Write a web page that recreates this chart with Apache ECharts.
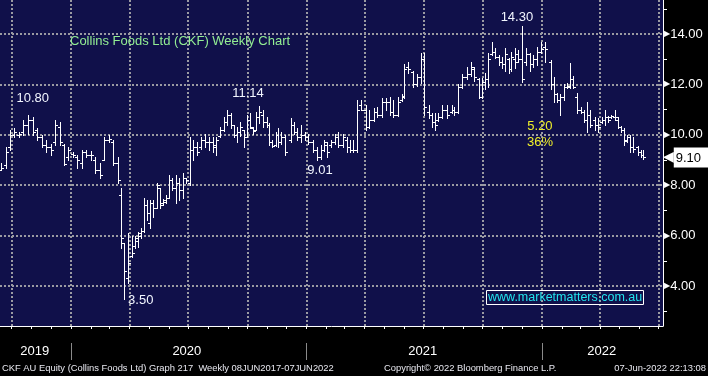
<!DOCTYPE html>
<html>
<head>
<meta charset="utf-8">
<title>Collins Foods Ltd (CKF) Weekly Chart</title>
<script src="https://cdn.jsdelivr.net/npm/echarts@6/dist/echarts.min.js"></script>
<style>
  html, body { margin: 0; padding: 0; background: #000; }
  #main { width: 708px; height: 376px; }
</style>
</head>
<body>
<div id="main"></div>
<script>
// bar dates, as days counted from 2020-01-01
var dayOffsets = [-109,-100,-95,-88,-81,-74,-67,-59,-53,-45,-39,-31,-25,-17,-11,-5,3,9,17,23,31,37,45,51,59,65,73,78,82,88,
  95,99,104,109,113,118,123,127,133,138,143,147,152,157,163,168,174,178,185,189,196,202,208,214,220,225,231,237,242,248,
  253,258,262,268,273,278,282,287,292,298,304,307,312,318,321,326,332,341,346,351,357,363,368,376,382,388,393,397,404,410,
  414,422,428,433,438,444,450,458,462,470,475,483,489,495,500,508,514,517,523,531,537,543,548,556,560,565,570,576,584,591,
  594,601,607,615,621,625,633,638,643,647,653,658,664,669,674,680,683,689,694,700,706,712,717,723,729,736,745,750,754,759,
  765,770,774,779,785,792,796,801,805,813,818,824,829,833,838,844,849,854,858,863,868,872,880,885,888];
var opens = [8.6,8.8,9.5,10.0,10.0,10.1,10.4,10.6,10.2,9.9,9.6,9.5,9.7,10.3,9.6,9.1,9.25,9.1,8.9,9.3,9.2,9.0,8.6,9.0,9.8,9.7,8.9,7.6,5.7,4.3,
  5.2,5.6,5.8,6.0,6.2,7.2,6.5,7.3,7.1,7.9,7.3,7.35,7.5,8.2,7.9,8.1,7.8,8.3,8.1,9.4,9.5,9.5,9.8,9.7,9.7,9.5,9.95,10.2,10.5,10.8,
  10.4,10.0,10.1,10.2,9.9,10.6,10.25,10.2,10.7,10.8,10.5,10.4,9.7,9.6,10.0,9.7,9.9,9.8,10.4,10.1,9.9,10.0,9.9,9.7,9.4,9.1,9.4,9.6,9.6,9.7,
  9.9,9.6,9.8,9.5,9.4,9.4,11.2,11.0,10.3,10.6,10.9,10.8,11.3,11.3,10.9,10.8,11.4,11.5,12.7,12.5,12.0,12.3,13.0,10.9,10.8,10.5,10.6,10.7,11.0,10.9,
  11.0,10.9,11.9,12.3,12.4,12.6,12.2,11.5,12.1,12.2,13.2,13.3,13.1,12.9,12.8,13.0,12.6,13.0,13.2,13.0,12.9,13.2,12.8,13.0,13.3,13.5,12.9,12.0,11.6,11.4,
  11.5,11.9,11.9,12.2,11.5,11.0,10.9,10.6,10.8,10.6,10.4,10.5,10.6,10.7,10.7,10.7,10.6,10.3,10.2,9.8,9.9,9.5,9.5,9.3,9.2];
var highs = [8.9,9.5,10.2,10.25,10.1,10.6,10.8,10.7,10.25,10.0,9.8,9.65,10.6,10.5,9.65,9.5,9.3,9.2,9.4,9.4,9.35,9.1,8.9,9.9,10.0,9.8,9.1,7.9,5.7,6.1,
  6.0,6.0,6.15,6.3,7.5,7.4,7.4,7.4,8.1,7.9,7.45,7.6,8.4,8.3,8.4,8.3,8.5,8.3,9.9,9.8,9.7,9.9,10.05,9.9,9.9,9.9,10.3,10.7,10.98,10.85,
  10.4,10.3,10.5,10.2,10.8,10.85,10.3,10.9,11.14,10.98,10.7,10.45,9.8,10.1,10.25,10.1,10.0,10.65,10.5,10.25,10.4,10.1,10.05,9.8,9.5,9.6,9.8,9.7,9.8,10.05,
  10.1,10.05,9.9,9.8,9.8,11.4,11.4,11.2,11.0,11.05,11.1,11.45,11.45,11.5,11.4,11.5,11.6,12.8,12.9,12.55,12.4,13.25,13.25,11.2,10.85,10.85,10.85,11.2,11.2,11.2,
  11.1,12.0,12.4,12.7,12.9,12.7,12.25,12.25,12.45,13.25,13.7,13.45,13.15,13.1,13.45,13.05,13.3,13.45,13.35,14.3,13.45,13.25,13.15,13.5,13.7,13.7,12.95,12.3,11.65,11.6,
  12.0,12.05,12.85,12.35,11.65,11.1,11.0,11.3,11.0,10.7,10.65,10.7,11.0,10.75,10.8,10.98,10.7,10.35,10.25,10.0,10.0,9.9,9.55,9.4,9.4];
var lows = [8.6,8.7,9.4,9.9,9.9,10.0,10.05,10.0,9.8,9.5,9.3,9.2,9.6,9.6,8.8,9.0,9.1,8.7,8.7,9.1,9.0,8.5,8.3,9.0,9.7,8.8,8.1,5.5,3.5,4.1,
  5.15,5.5,5.55,5.9,6.15,6.6,6.3,6.75,7.1,7.1,7.2,7.3,7.5,7.8,7.3,7.4,7.5,8.1,8.0,9.0,9.2,9.45,9.5,9.4,9.3,9.2,9.9,10.15,10.4,10.25,
  9.9,9.7,9.95,9.5,9.9,10.25,10.05,10.2,10.45,10.3,10.3,9.6,9.5,9.55,9.5,9.65,9.2,9.7,10.05,9.8,9.7,9.8,9.65,9.3,9.01,9.05,9.35,9.1,9.5,9.65,
  9.5,9.5,9.3,9.3,9.3,9.3,11.0,10.2,10.25,10.55,10.7,10.7,10.98,10.8,10.7,10.75,11.35,11.45,12.45,11.9,11.95,12.05,10.8,10.65,10.3,10.2,10.55,10.65,10.65,10.85,
  10.8,10.85,11.85,12.2,12.35,12.15,11.45,11.45,11.8,11.9,13.15,13.05,12.75,12.65,12.55,12.45,12.55,12.65,12.9,12.1,12.75,12.55,12.7,12.75,13.25,12.9,11.8,11.3,11.3,10.8,
  11.4,11.85,11.85,11.85,10.85,10.85,10.5,10.1,10.3,10.2,10.1,10.45,10.4,10.5,10.65,10.6,10.25,10.1,9.6,9.7,9.3,9.3,9.2,9.1,9.05];
var closes = [8.7,9.3,10.0,10.1,10.05,10.4,10.6,10.1,9.9,9.6,9.5,9.4,10.4,9.7,8.85,9.4,9.2,9.0,9.3,9.2,9.2,8.6,8.4,9.8,9.85,8.9,8.2,5.9,4.6,4.9,
  5.3,5.9,6.1,6.2,7.2,6.9,7.3,7.1,8.0,7.2,7.4,7.5,8.2,7.9,8.1,7.8,8.3,8.2,9.4,9.5,9.3,9.8,9.7,9.7,9.6,9.8,10.2,10.5,10.8,10.4,
  10.0,10.1,10.3,9.9,10.6,10.3,10.15,10.7,10.9,10.5,10.4,9.7,9.55,10.0,9.7,9.9,9.3,10.4,10.1,9.9,10.0,9.9,9.7,9.4,9.1,9.4,9.7,9.3,9.7,9.9,
  9.6,9.9,9.5,9.4,9.4,11.0,11.0,10.3,10.6,10.9,10.8,11.3,11.3,10.9,10.8,11.3,11.55,12.6,12.6,12.0,12.3,13.0,11.1,10.8,10.5,10.4,10.7,11.0,10.8,11.0,
  10.9,11.9,12.3,12.4,12.7,12.3,11.5,12.1,12.2,13.0,13.3,13.1,12.9,12.8,13.2,12.6,13.1,12.9,13.0,12.2,13.2,12.8,13.0,13.3,13.4,13.4,12.0,11.6,11.4,11.5,
  11.9,11.95,12.2,11.9,11.0,10.9,10.6,10.8,10.4,10.4,10.3,10.6,10.7,10.6,10.75,10.7,10.3,10.2,9.75,9.9,9.5,9.45,9.3,9.2,9.1];

// axis marks
var yTicks = [4, 6, 8, 10, 12, 14];
var yMinorTicks = [3, 5, 7, 9, 11, 13, 15];
var quarterLines = ['2019-10-01','2020-01-01','2020-04-01','2020-07-01','2020-10-01','2021-01-01',
  '2021-04-01','2021-07-01','2021-10-01','2022-01-01','2022-04-01','2022-07-01'];
var yearStarts = ['2020-01-01', '2021-01-01', '2022-01-01'];
var yearLabelDates = ['2019-11-06', '2020-06-29', '2021-06-30', '2022-04-04'];

// annotations: [days from 2020-01-01, price, text]
var notes = [[-67, 10.80, '10.80'], [292, 11.14, '11.14'], [382, 9.01, '9.01'], [82, 3.50, '3.50'], [700, 14.30, '14.30']];
var noteOffsets = [[5, -16], [-11, -13], [3, 11], [17, 2], [-5, -9]];
var lastPrice = 9.10;

var DAY = 86400000;
var base = Date.UTC(2020, 0, 1);
function dayTs(d) { return base + d * DAY; }
function dateTs(s) { var p = s.split('-'); return Date.UTC(+p[0], +p[1] - 1, +p[2]); }

var bars = [];
for (var i = 0; i < dayOffsets.length; i++) {
    bars.push([dayTs(dayOffsets[i]), opens[i], highs[i], lows[i], closes[i]]);
}

var monthTicks = [];
for (var y = 2019; y <= 2022; y++) {
    for (var m = 0; m < 12; m++) {
        var t = Date.UTC(y, m, 1);
        if (t >= Date.UTC(2019, 9, 1) && t <= Date.UTC(2022, 6, 1)) monthTicks.push(t);
    }
}

var xMin = Date.UTC(2019, 8, 13);
var xMax = Date.UTC(2022, 6, 8);
var FONT = '"Liberation Sans", Arial, sans-serif';
var FOOT = '9.4px "Liberation Sans", Arial, sans-serif';

function renderBar(params, api) {
    var hi = api.coord([api.value(0), api.value(2)]);
    var lo = api.coord([api.value(0), api.value(3)]);
    var op = api.coord([api.value(0), api.value(1)]);
    var cl = api.coord([api.value(0), api.value(4)]);
    var px = Math.round(hi[0]) + 0.5;
    var oy = Math.round(op[1]) + 0.5;
    var cy = Math.round(cl[1]) + 0.5;
    var st = { stroke: '#ffffff', lineWidth: 1 };
    return {
        type: 'group',
        children: [
            { type: 'line', shape: { x1: px, y1: Math.round(hi[1]), x2: px, y2: Math.round(lo[1]) + 1 }, style: st },
            { type: 'line', shape: { x1: px - 2.5, y1: oy, x2: px, y2: oy }, style: st },
            { type: 'line', shape: { x1: px, y1: cy, x2: px + 2.5, y2: cy }, style: st }
        ]
    };
}

var gridLineStyle = { color: '#9a9aa2', type: [2, 2], width: 2 };
var markLines = [];
yTicks.forEach(function (v) { markLines.push({ yAxis: v, lineStyle: gridLineStyle }); });
quarterLines.forEach(function (d) { markLines.push({ xAxis: dateTs(d), lineStyle: gridLineStyle }); });

var markPoints = notes.map(function (n, k) {
    return {
        coord: [dayTs(n[0]), n[1]],
        label: { show: true, formatter: n[2], offset: noteOffsets[k], color: '#f2f6ff', fontSize: 13, fontFamily: FONT }
    };
});
markPoints.push({
    coord: [dayTs(728), 10.0],
    label: { show: true, formatter: '5.20\n36%', color: '#f0f02a', fontSize: 13, lineHeight: 16, fontFamily: FONT, align: 'center' }
});

var chart = echarts.init(document.getElementById('main'));
chart.setOption({
    animation: false,
    backgroundColor: '#000000',
    title: [{
        text: 'Collins Foods Ltd (CKF) Weekly Chart',
        left: 70, top: 35, padding: 0,
        textStyle: { color: '#93ee93', fontSize: 13, fontWeight: 'normal', fontFamily: FONT }
    }, {
        text: 'www.marketmatters.com.au',
        left: 486, top: 290, padding: [1, 2, 1, 2],
        borderColor: '#ffffff', borderWidth: 1,
        textStyle: { color: '#22e4ee', fontSize: 12.5, fontWeight: 'normal', fontFamily: FONT }
    }],
    grid: { left: 0, right: 45, top: 0, bottom: 50, show: true, backgroundColor: '#10104a', borderWidth: 0 },
    xAxis: [{
        type: 'value',
        min: xMin,
        max: xMax,
        axisLine: { lineStyle: { color: '#ffffff', width: 1 } },
        axisTick: { show: true, customValues: monthTicks, length: 3, lineStyle: { color: '#ffffff' } },
        splitLine: { show: false },
        axisLabel: {
            customValues: yearLabelDates.map(dateTs),
            margin: 19, color: '#ffffff', fontSize: 13, fontFamily: FONT,
            formatter: function (v) { return String(new Date(v).getUTCFullYear()); }
        }
    }, {
        type: 'value',
        position: 'bottom',
        offset: 17,
        min: xMin,
        max: xMax,
        axisLine: { show: false },
        axisTick: { show: true, customValues: yearStarts.map(dateTs), length: 17, lineStyle: { color: '#8a8a8a' } },
        axisLabel: { show: false },
        splitLine: { show: false }
    }],
    yAxis: {
        type: 'value',
        position: 'right',
        min: 2.413,
        max: 15.349,
        axisLine: { show: true, lineStyle: { color: '#ffffff', width: 1 } },
        axisTick: { show: true, inside: false, customValues: yMinorTicks, length: 4, lineStyle: { color: '#ffffff' } },
        splitLine: { show: false },
        axisLabel: {
            customValues: yTicks,
            margin: 1,
            formatter: function (v) { return '{t|\u25B6}{v|' + v.toFixed(2) + '}'; },
            rich: {
                t: { fontSize: 8, color: '#ffffff', fontFamily: '"DejaVu Sans"' },
                v: { fontSize: 13, color: '#ffffff', fontFamily: FONT }
            }
        }
    },
    graphic: [
        { type: 'text', left: 2, top: 364, style: { text: 'CKF AU Equity (Collins Foods Ltd) Graph 217  Weekly 08JUN2017-07JUN2022', fill: '#e8e8f0', font: FOOT } },
        { type: 'text', left: 384, top: 364, style: { text: 'Copyright\u00A9 2022 Bloomberg Finance L.P.', fill: '#e8e8f0', font: FOOT } },
        { type: 'text', right: 2, top: 364, style: { text: '07-Jun-2022 22:13:08', fill: '#e8e8f0', font: FOOT } }
    ],
    series: [{
        name: 'CKF',
        type: 'custom',
        renderItem: renderBar,
        encode: { x: 0, y: [1, 2, 3, 4] },
        data: bars,
        z: 3,
        markLine: {
            z: 1,
            silent: true,
            symbol: 'none',
            label: { show: false },
            data: markLines
        },
        markPoint: {
            symbol: 'circle',
            symbolSize: 0,
            silent: true,
            data: markPoints
        }
    }, {
        // last price tag on the right axis
        name: 'last',
        type: 'custom',
        renderItem: function () { return { type: 'group', children: [] }; },
        data: [[xMax, lastPrice]],
        encode: { x: 0, y: 1 },
        markLine: {
            z: 6,
            silent: true,
            symbol: 'none',
            lineStyle: { color: 'rgba(0,0,0,0)', width: 0 },
            label: {
                show: true,
                position: 'end',
                distance: 0,
                formatter: '{a|\u25C0}{b|' + lastPrice.toFixed(2) + '}',
                rich: {
                    a: { color: '#ffffff', fontSize: 14, fontFamily: '"DejaVu Sans"' },
                    b: { color: '#000000', backgroundColor: '#ffffff', fontSize: 13, fontFamily: FONT, padding: [4, 8, 3, 2] }
                }
            },
            data: [{ yAxis: lastPrice }]
        }
    }]
});
</script>
</body>
</html>
